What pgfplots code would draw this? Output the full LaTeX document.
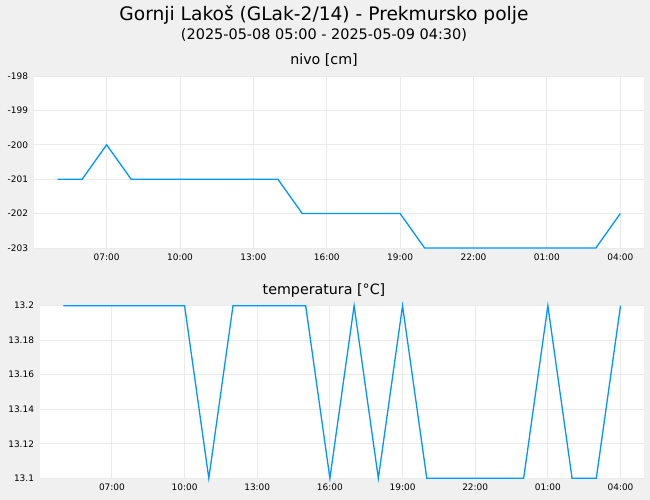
\documentclass[border=0pt]{standalone}
\usepackage{pgfplots}
\pgfplotsset{compat=1.18}
\usepackage{fontspec}
\setmainfont{DejaVu Sans}

\definecolor{bgc}{HTML}{F0F0F0}
\definecolor{gridc}{HTML}{EBEBEB}
\definecolor{linec}{HTML}{0096FF}

% hours counted from 2025-05-08 05:00
\pgfplotstableread{
h   nivo
0   -201
1   -201
2   -200
3   -201
9   -201
10  -202
14  -202
15  -203
22  -203
23  -202
}\nivodata

\pgfplotstableread{
h   temp
0   13.2
5   13.2
6   13.1
7   13.2
10  13.2
11  13.1
12  13.2
13  13.1
14  13.2
15  13.1
19  13.1
20  13.2
21  13.1
22  13.1
23  13.2
}\tempdata

\pgfplotsset{panel/.style={
    scale only axis, anchor=south west,
    xmin=-0.97, xmax=23.97,
    axis line style={draw=none},
    major tick length=0pt,
    axis background/.style={fill=white},
    grid=major,
    grid style={gridc, line width=0.9bp},
    xtick={2,5,...,23},
    xticklabels={07:00,10:00,13:00,16:00,19:00,22:00,01:00,04:00},
    ticklabel style={font=\fontsize{9}{10}\selectfont},
    xticklabel style={yshift=-2.5bp},
    yticklabel style={xshift=-2.5bp},
    /pgf/number format/assume math mode=true,
    clip=false,
}}

\begin{document}
\begin{tikzpicture}[x=1bp,y=1bp]
\fill[bgc] (0,0) rectangle (650,500);

\node[anchor=base, font=\fontsize{18.7}{22}\selectfont] at (324,479.3) {Gornji Lakoš (GLak-2/14) - Prekmursko polje};
\node[anchor=base, font=\fontsize{14.5}{17}\selectfont] at (324,460.3) {(2025-05-08 05:00 - 2025-05-09 04:30)};
\node[anchor=base, font=\fontsize{14.3}{17}\selectfont] at (324,435.7) {nivo [cm]};
\node[anchor=base, font=\fontsize{14.3}{17}\selectfont] at (324,205) {temperatura [°C]};

\begin{axis}[panel, at={(34bp,252bp)}, width=610bp, height=172bp,
    ymin=-203, ymax=-198, ytick={-203,-202,...,-198}]
\addplot[linec, line width=1.3bp, mark=none] table[x=h, y=nivo] {\nivodata};
\end{axis}

\begin{axis}[panel, at={(40bp,21.7bp)}, width=604bp, height=172.6bp,
    ymin=13.1, ymax=13.2, ytick={13.1,13.12,13.14,13.16,13.18,13.2},
    yticklabels={13.1,13.12,13.14,13.16,13.18,13.2}]
\addplot[linec, line width=1.3bp, mark=none] table[x=h, y=temp] {\tempdata};
\end{axis}
\end{tikzpicture}
\end{document}
